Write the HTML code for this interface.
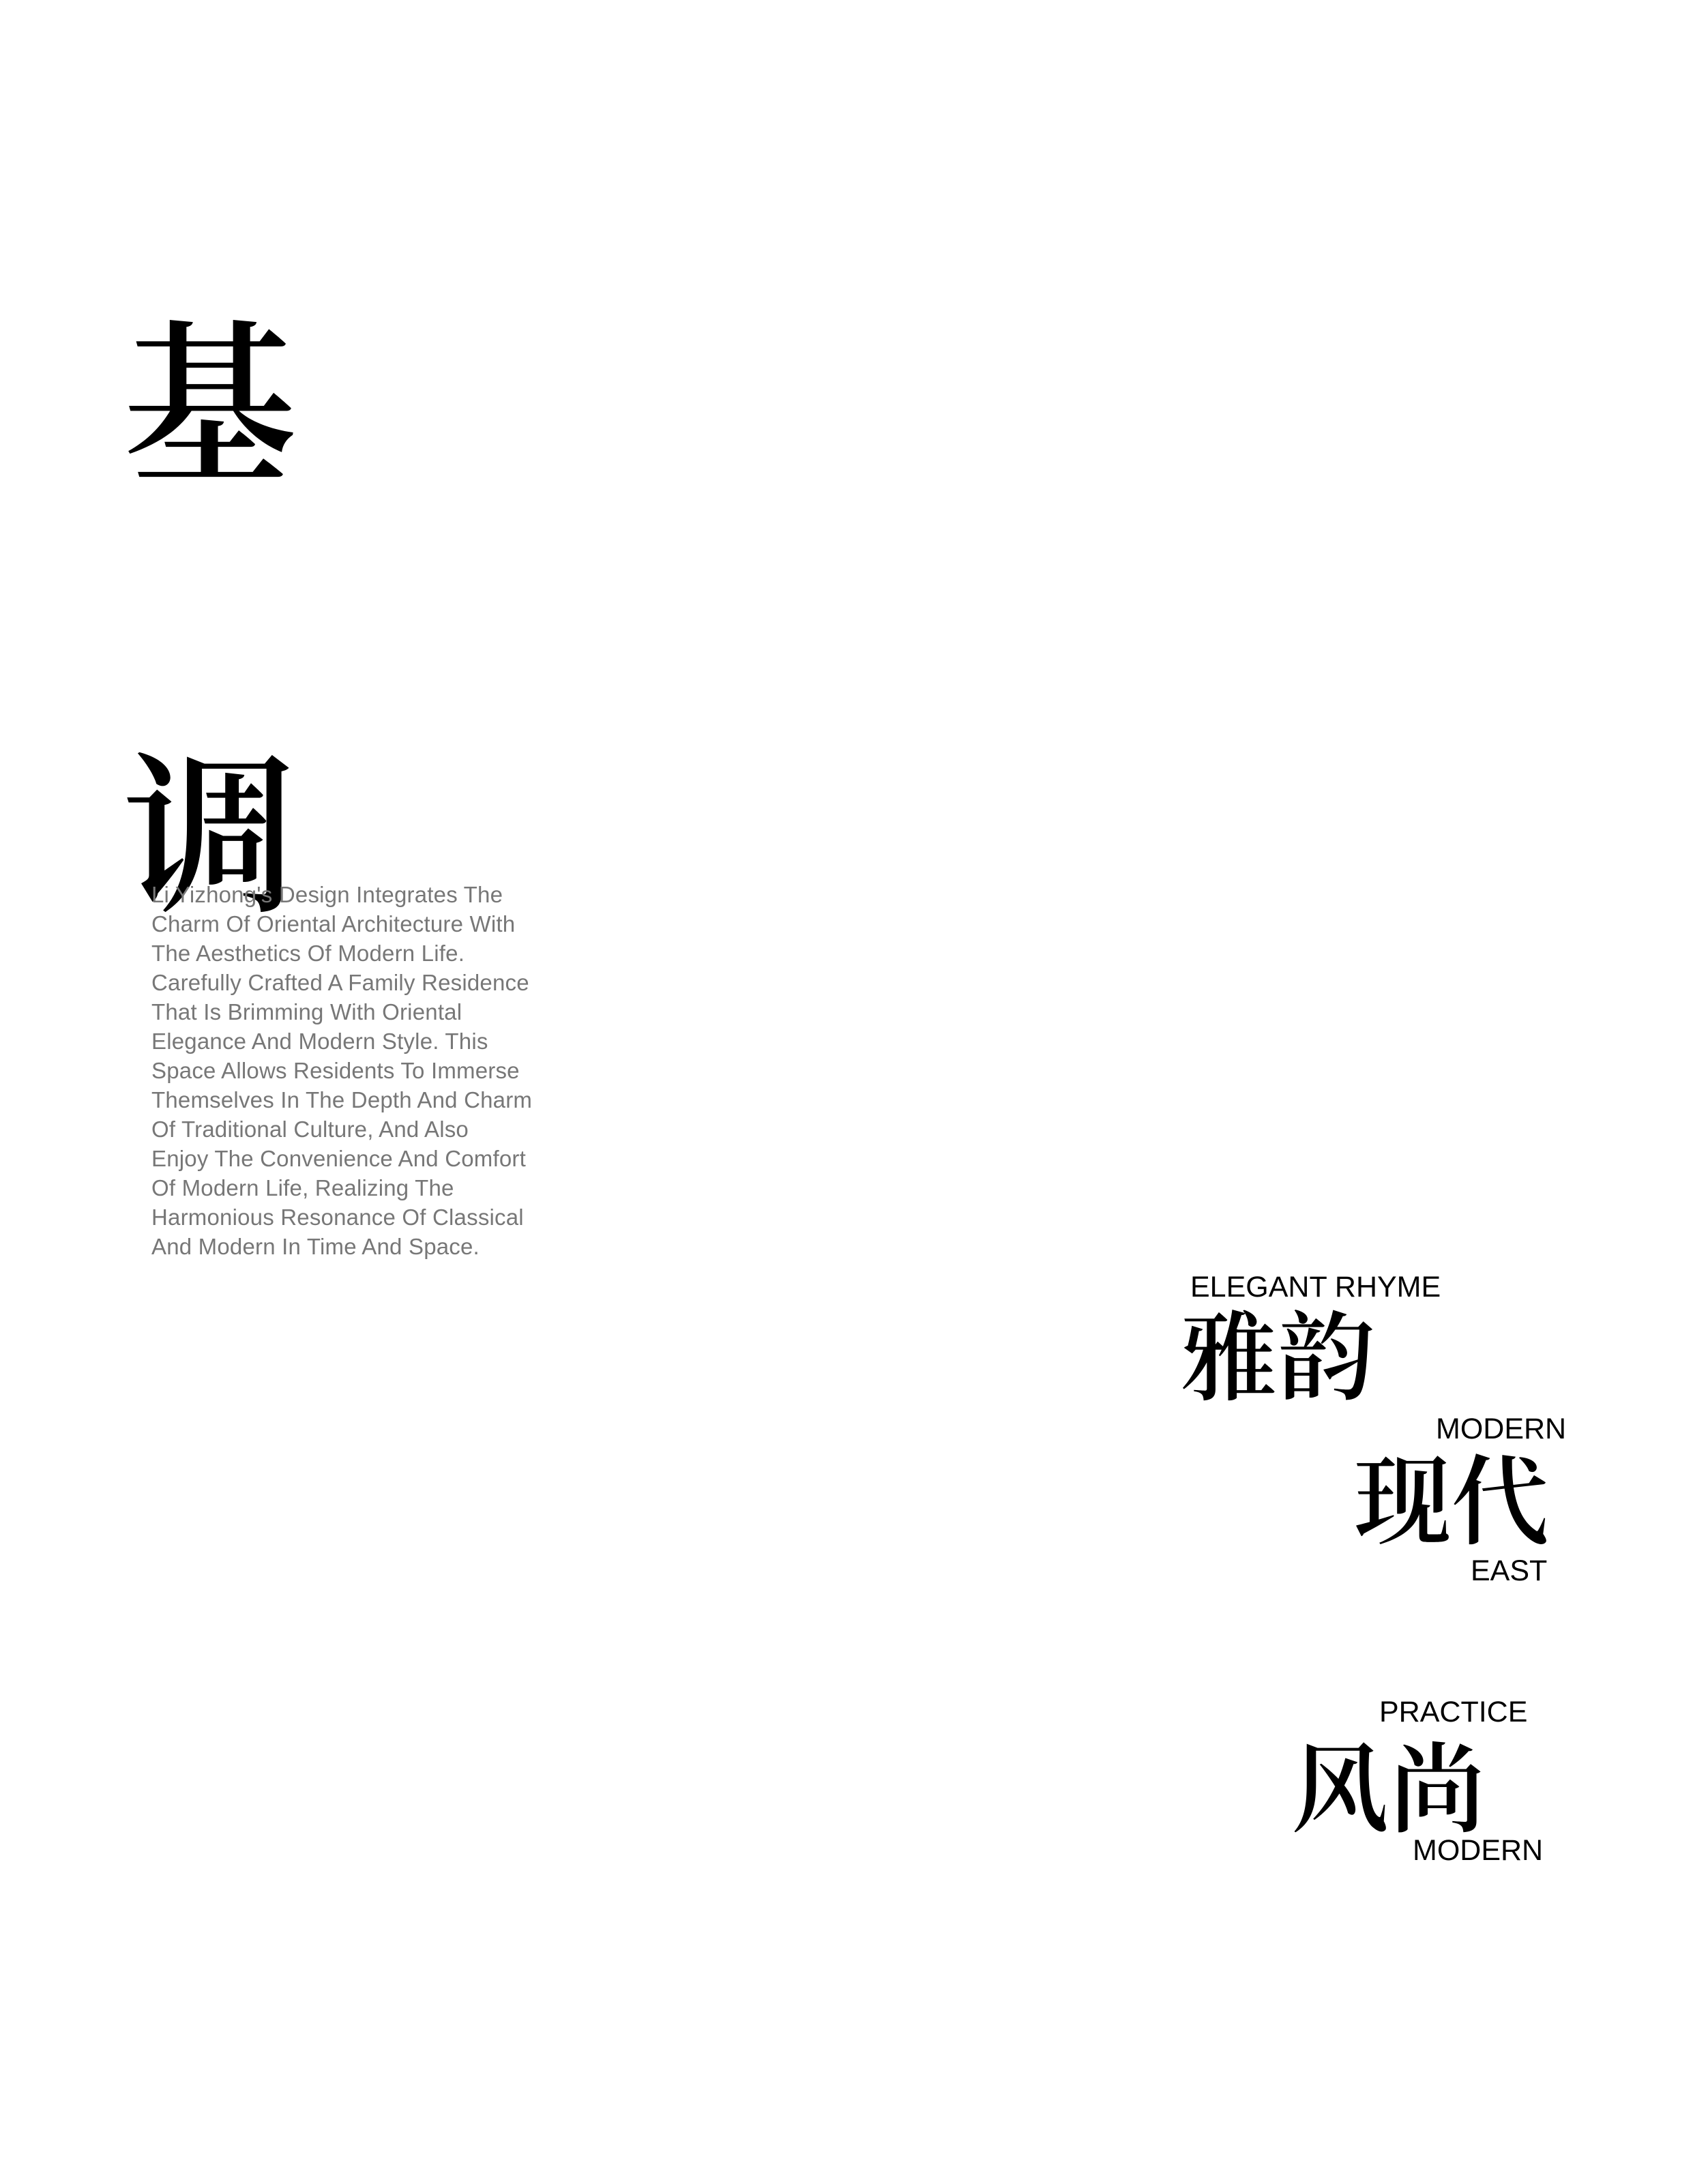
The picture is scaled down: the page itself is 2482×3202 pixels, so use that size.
<!DOCTYPE html>
<html><head><meta charset="utf-8"><style>
html,body{margin:0;padding:0;background:#fff;}
body{width:2482px;height:3202px;position:relative;overflow:hidden;}
.c{position:absolute;font-family:"Liberation Serif","Noto Serif CJK SC",serif;color:#000;line-height:1;white-space:nowrap;font-weight:600;}
.l{position:absolute;font-family:"Liberation Sans",sans-serif;color:#000;font-size:43px;line-height:1;white-space:nowrap;}
.p{position:absolute;left:222px;top:1290px;font-family:"Liberation Sans",sans-serif;color:#777;font-size:33px;letter-spacing:0.2px;line-height:43px;white-space:nowrap;}
</style></head><body>
<div class="c" style="left:180px;top:472px;font-size:255px;">基</div>
<div class="c" style="left:180px;top:1104px;font-size:255px;">调</div>
<div class="p">Li Yizhong's Design Integrates The<br>Charm Of Oriental Architecture With<br>The Aesthetics Of Modern Life.<br>Carefully Crafted A Family Residence<br>That Is Brimming With Oriental<br>Elegance And Modern Style. This<br>Space Allows Residents To Immerse<br>Themselves In The Depth And Charm<br>Of Traditional Culture, And Also<br>Enjoy The Convenience And Comfort<br>Of Modern Life, Realizing The<br>Harmonious Resonance Of Classical<br>And Modern In Time And Space.</div>
<div class="l" style="left:1745px;top:1866px;">ELEGANT RHYME</div>
<div class="c" style="left:1730px;top:1922px;font-size:143px;">雅韵</div>
<div class="l" style="left:2105px;top:2074px;">MODERN</div>
<div class="c" style="left:1985px;top:2133px;font-size:143px;">现代</div>
<div class="l" style="left:2156px;top:2282px;">EAST</div>
<div class="l" style="left:2022px;top:2489px;">PRACTICE</div>
<div class="c" style="left:1893px;top:2555px;font-size:143px;">风尚</div>
<div class="l" style="left:2071px;top:2692px;">MODERN</div>
</body></html>
